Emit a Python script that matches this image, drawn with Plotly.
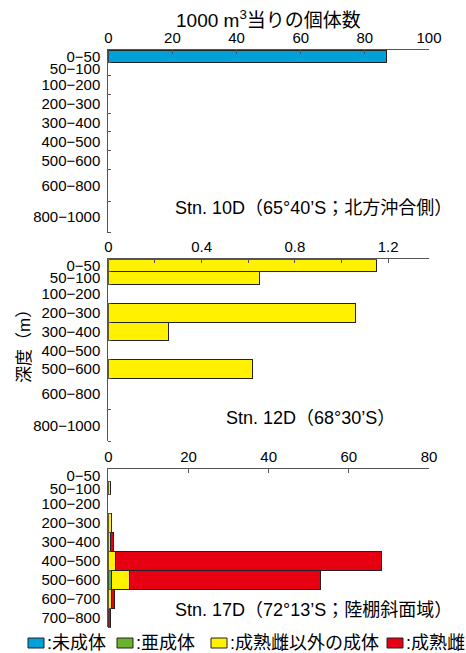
import plotly.graph_objects as go

# Depth bins (m) for each station
depth_bins_10d = ["0−50", "50−100", "100−200", "200−300", "300−400",
                  "400−500", "500−600", "600−800", "800−1000"]
depth_bins_12d = depth_bins_10d
depth_bins_17d = ["0−50", "50−100", "100−200", "200−300", "300−400",
                  "400−500", "500−600", "600−700", "700−800"]

# Individuals per 1000 m3
stn10d_juvenile = [86.7, 0, 0, 0, 0, 0, 0, 0, 0]
stn12d_adult_other = [1.15, 0.65, 0, 1.06, 0.26, 0, 0.62, 0, 0]
stn17d_subadult = [0, 0, 0, 0, 0, 0, 0.8, 0, 0]
stn17d_adult_other = [0, 0.5, 0, 0.75, 0.5, 1.8, 4.5, 0.7, 0]
stn17d_mature_female = [0, 0, 0, 0, 0.75, 66.4, 47.6, 0.8, 0.5]

class_names = ["未成体", "亜成体", "成熟雌以外の成体", "成熟雌"]
class_colors = ["#00a0d8", "#6ab42d", "#fff100", "#e60012"]

W, H = 466, 653
FONT = "Liberation Sans, Arial, Noto Sans CJK JP"


def band_height(label):
    lo, hi = [int(v) for v in label.split("−")]
    span = hi - lo
    return 2 if span == 50 else (3 if span == 100 else 5)


def bands(labels):
    heights = [band_height(l) for l in labels]
    centers, edges, pos = [], [0], 0
    for h in heights:
        centers.append(pos + h / 2)
        pos += h
        edges.append(pos)
    return heights, centers, edges


def px_x(p):
    return p / W


def px_y(p):
    return 1 - p / H


def nz(vals):
    return [v if v else None for v in vals]


fig = go.Figure()

panels = [
    ("", depth_bins_10d, [(0, stn10d_juvenile)], 50, 232.7),
    ("2", depth_bins_12d, [(2, stn12d_adult_other)], 259.3, 441.3),
    ("3", depth_bins_17d, [(1, stn17d_subadult), (2, stn17d_adult_other),
                           (3, stn17d_mature_female)], 469.3, 627.3),
]

for suffix, labels, series, top, bottom in panels:
    heights, centers, edges = bands(labels)
    for ci, vals in series:
        fig.add_trace(go.Bar(
            x=nz(vals), y=centers, width=heights, orientation="h",
            marker=dict(color=class_colors[ci], line=dict(color="#222", width=1)),
            name=class_names[ci], showlegend=False,
            xaxis="x" + suffix, yaxis="y" + suffix,
        ))
    yname = "yaxis" + suffix
    fig.layout[yname] = dict(
        domain=[px_y(bottom), px_y(top)],
        range=[edges[-1], 0], anchor="x" + suffix, automargin=False,
        tickmode="array", tickvals=centers, ticktext=labels,
        ticks="", showline=True, linecolor="#555", linewidth=1,
        showgrid=False, zeroline=False, ticklabelstandoff=4,
        tickfont=dict(size=15, color="#000", family=FONT),
        minor=dict(tickmode="array", tickvals=edges[1:], ticks="inside",
                   ticklen=3, tickcolor="#555", showgrid=False),
    )

axis_common = dict(side="top", showline=True, linecolor="#555", linewidth=1,
                   ticks="inside", ticklen=4, tickcolor="#555", showgrid=False,
                   zeroline=False, automargin=False,
                   domain=[px_x(108.3), px_x(429)],
                   tickfont=dict(size=15, color="#000", family=FONT))

fig.layout.xaxis = dict(axis_common, anchor="y", range=[0, 100],
                        tickmode="array", tickvals=[0, 20, 40, 60, 80, 100],
                        ticktext=["0", "20", "40", "60", "80", "100"])
fig.layout.xaxis2 = dict(axis_common, anchor="y2", range=[0, 1.375],
                         tickmode="array",
                         tickvals=[0, 0.2, 0.4, 0.6, 0.8, 1.0, 1.2, 1.375],
                         ticktext=["0", " ", "0.4", " ", "0.8", " ", "1.2", " "])
fig.layout.xaxis3 = dict(axis_common, anchor="y3", range=[0, 80],
                         tickmode="array", tickvals=[0, 20, 40, 60, 80],
                         ticktext=["0", "20", "40", "60", "80"])

annotations = [
    dict(text="1000 m<sup>3</sup>当りの個体数", x=px_x(268), y=px_y(19),
         xanchor="center", yanchor="middle", font=dict(size=19)),
    dict(text="深度（m）", x=px_x(25), y=px_y(342), textangle=-90,
         xanchor="center", yanchor="middle", font=dict(size=17)),
    dict(text="Stn. 10D（65°40’S；北方沖合側）", x=px_x(454), y=px_y(208),
         xanchor="right", yanchor="middle", font=dict(size=18)),
    dict(text="Stn. 12D（68°30’S）", x=px_x(397), y=px_y(418),
         xanchor="right", yanchor="middle", font=dict(size=18)),
    dict(text="Stn. 17D（72°13’S；陸棚斜面域）", x=px_x(454), y=px_y(610),
         xanchor="right", yanchor="middle", font=dict(size=18)),
]

shapes = []
legend_x = [28, 117, 211, 387]
legend_y = 643
for name, color, lx in zip(class_names, class_colors, legend_x):
    shapes.append(dict(type="rect", xref="paper", yref="paper",
                       x0=px_x(lx), x1=px_x(lx + 16),
                       y0=px_y(legend_y + 5), y1=px_y(legend_y - 5),
                       fillcolor=color, line=dict(color="#222", width=1)))
    annotations.append(dict(text=":" + name, x=px_x(lx + 16.5), y=px_y(legend_y),
                            xanchor="left", yanchor="middle", font=dict(size=18)))

for a in annotations:
    a.update(xref="paper", yref="paper", showarrow=False)
    a["font"].update(color="#000", family=FONT)

fig.update_layout(
    width=W, height=H, autosize=False,
    margin=dict(l=0, r=0, t=0, b=0, pad=0),
    paper_bgcolor="white", plot_bgcolor="white",
    barmode="stack",
    annotations=annotations, shapes=shapes,
    font=dict(family=FONT, color="#000"),
)

fig.write_html(
    "out.html",
    config={"responsive": False, "displayModeBar": False},
    post_script="document.body.style.margin='0';document.body.style.overflow='hidden';",
)
